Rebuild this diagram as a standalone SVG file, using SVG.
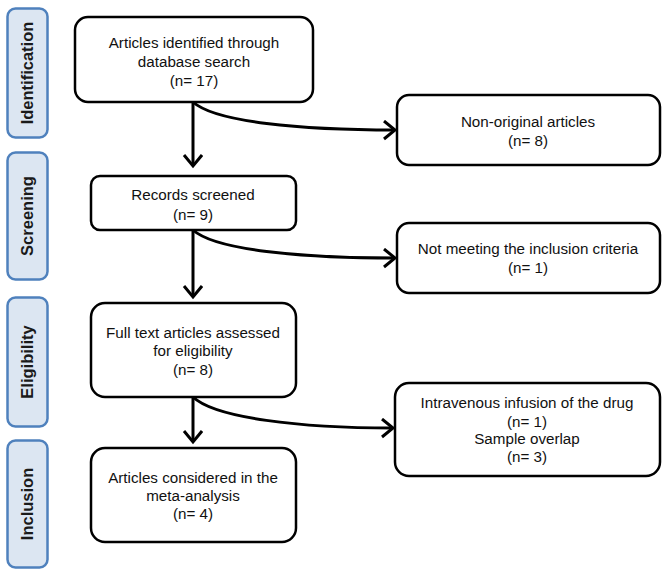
<svg xmlns="http://www.w3.org/2000/svg" width="664" height="585" viewBox="0 0 664 585">
<defs>
<style>
.phase{fill:#dce6f2;stroke:#4f81bd;stroke-width:2.5}
.ptxt{font-family:"Liberation Sans",Arial,sans-serif;font-weight:bold;font-size:16.5px;fill:#1a1a1a;text-anchor:middle}
.box{fill:#fff;stroke:#000;stroke-width:2.5}
.txt{font-family:"Liberation Sans",Arial,sans-serif;font-size:15.2px;fill:#111;text-anchor:middle}
.con{fill:none;stroke:#000;stroke-width:3}
</style>
<marker id="ah" markerUnits="userSpaceOnUse" markerWidth="20" markerHeight="24" refX="12" refY="10" orient="auto">
<path d="M1,1 L12,10 L1,19" fill="none" stroke="#000" stroke-width="3" stroke-linejoin="miter"/>
</marker>
</defs>
<rect width="664" height="585" fill="#fff"/>
<g id="phase-identification"><rect class="phase" x="7.5" y="8.5" width="40" height="129" rx="8"/><text class="ptxt" transform="translate(33,73) rotate(-90)">Identification</text></g>
<g id="phase-screening"><rect class="phase" x="7.5" y="152.5" width="40" height="127" rx="8"/><text class="ptxt" transform="translate(33,216) rotate(-90)">Screening</text></g>
<g id="phase-eligibility"><rect class="phase" x="7.5" y="297.5" width="40" height="129" rx="8"/><text class="ptxt" transform="translate(33,362) rotate(-90)">Eligibility</text></g>
<g id="phase-inclusion"><rect class="phase" x="7.5" y="440.5" width="40" height="127" rx="8"/><text class="ptxt" transform="translate(33,504) rotate(-90)">Inclusion</text></g>

<g id="connectors">
<path class="con" d="M193,102 L193,166" marker-end="url(#ah)"/>
<path class="con" d="M193,102 C215,122 300,130 395,130" marker-end="url(#ah)"/>
<path class="con" d="M193,230 L193,297" marker-end="url(#ah)"/>
<path class="con" d="M193,230 C215,250 300,258 395,258" marker-end="url(#ah)"/>
<path class="con" d="M193,397 L193,442" marker-end="url(#ah)"/>
<path class="con" d="M193,397 C215,418 300,428 393,428" marker-end="url(#ah)"/>
</g>

<g id="n-identified"><rect class="box" x="75" y="17" width="238" height="85" rx="13"/>
<text class="txt" x="194" y="48">Articles identified through</text>
<text class="txt" x="194" y="67">database search</text>
<text class="txt" x="194" y="86">(n= 17)</text></g>

<g id="n-nonoriginal"><rect class="box" x="397" y="95" width="263" height="70" rx="12"/>
<text class="txt" x="528" y="127">Non-original articles</text>
<text class="txt" x="528" y="146">(n=  8)</text></g>

<g id="n-screened"><rect class="box" x="91" y="176" width="205" height="54" rx="9"/>
<text class="txt" x="193" y="200">Records screened</text>
<text class="txt" x="193" y="220">(n= 9)</text></g>

<g id="n-notmeeting"><rect class="box" x="397" y="223" width="263" height="70" rx="12"/>
<text class="txt" x="528" y="254">Not meeting the inclusion criteria</text>
<text class="txt" x="528" y="273">(n= 1)</text></g>

<g id="n-fulltext"><rect class="box" x="91" y="303" width="205" height="94" rx="14"/>
<text class="txt" x="193" y="338">Full text articles assessed</text>
<text class="txt" x="193" y="356">for eligibility</text>
<text class="txt" x="193" y="375">(n= 8)</text></g>

<g id="n-excluded"><rect class="box" x="395" y="383" width="265" height="93" rx="14"/>
<text class="txt" x="527" y="408">Intravenous infusion of the drug</text>
<text class="txt" x="527" y="427">(n= 1)</text>
<text class="txt" x="527" y="444">Sample overlap</text>
<text class="txt" x="527" y="462">(n= 3)</text></g>

<g id="n-included"><rect class="box" x="91" y="448" width="205" height="94" rx="14"/>
<text class="txt" x="193" y="483">Articles considered in the</text>
<text class="txt" x="193" y="501">meta-analysis</text>
<text class="txt" x="193" y="519">(n= 4)</text></g>
</svg>
